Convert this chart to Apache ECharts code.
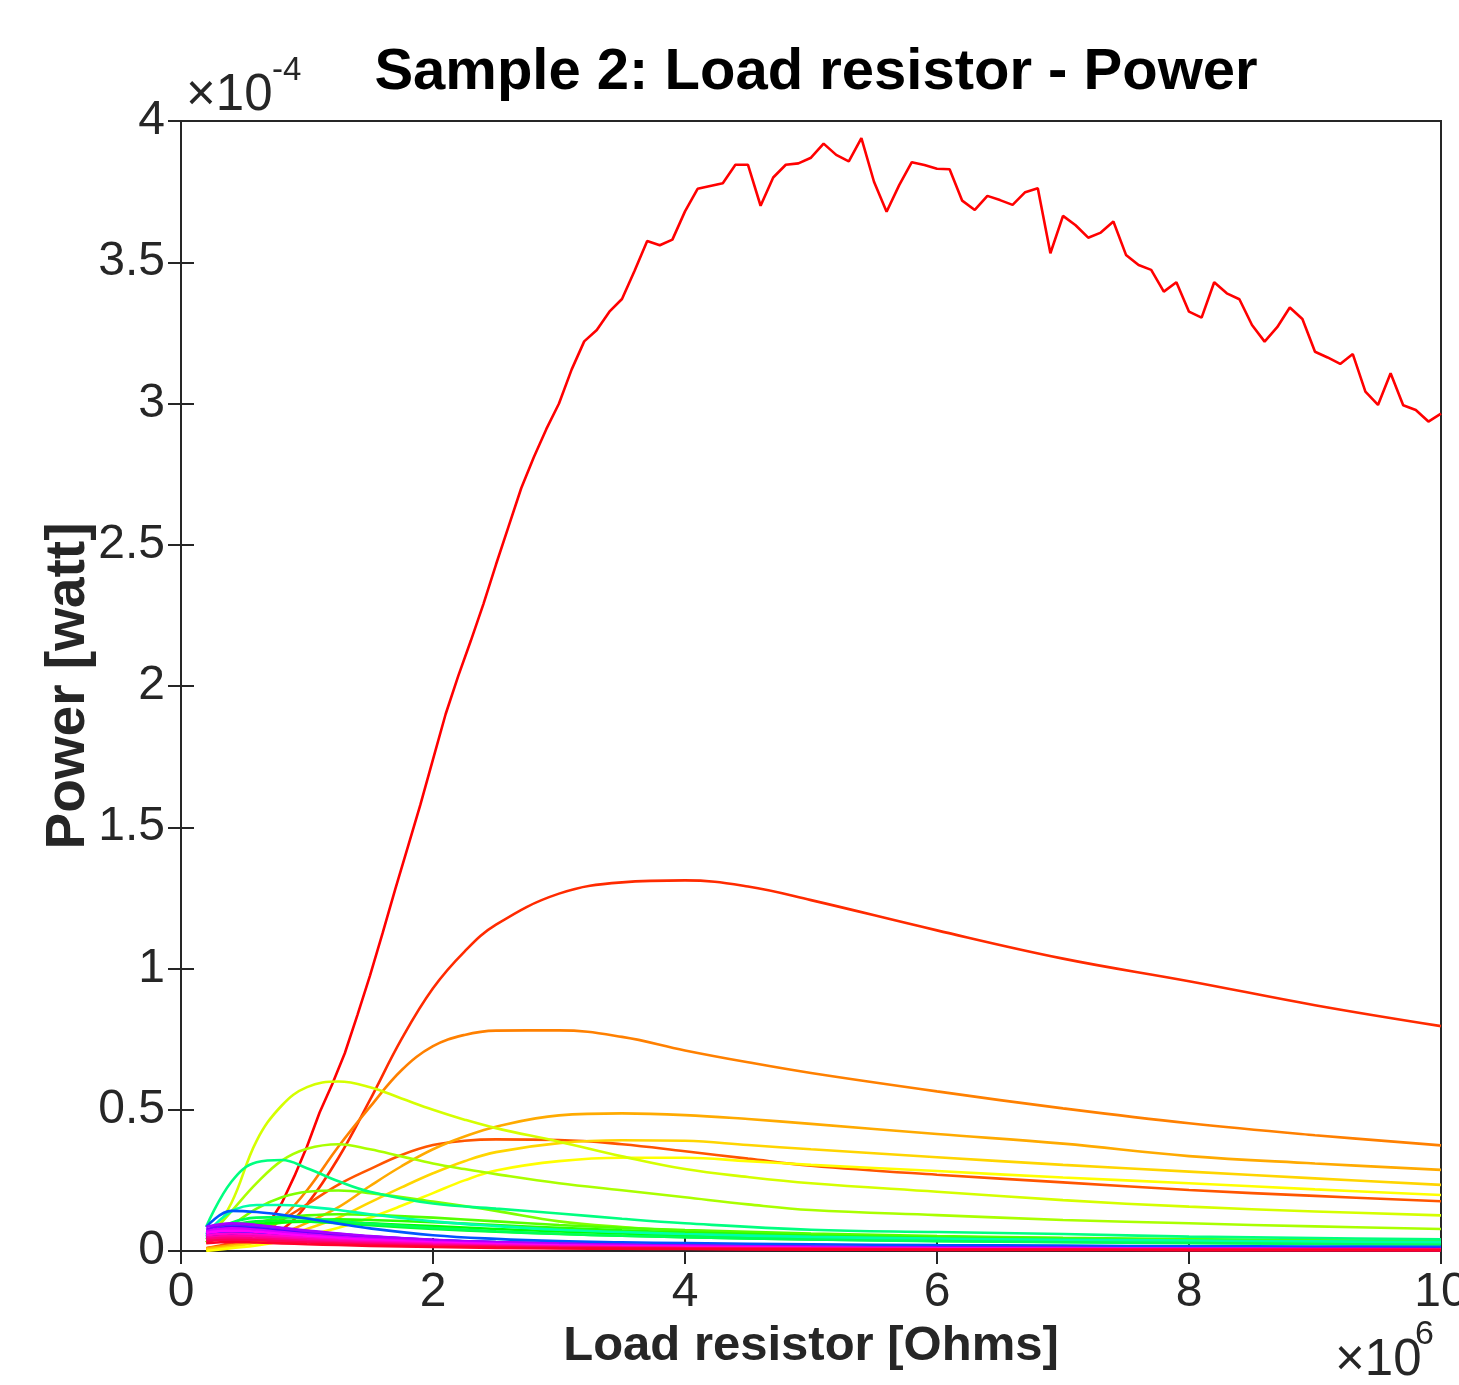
<!DOCTYPE html>
<html>
<head>
<meta charset="utf-8">
<title>Sample 2: Load resistor - Power</title>
<script src="https://cdn.jsdelivr.net/npm/echarts@6/dist/echarts.min.js"></script>
<style>
  html, body { margin: 0; padding: 0; background: #fff; }
  #chart { width: 1459px; height: 1385px; }
</style>
</head>
<body>
<div id="chart"></div>
<script>
// x in units of 1e6 Ohms, y in units of 1e-4 W (multipliers drawn as axis exponents)

// measured curve (red, jagged) - every 0.1e6 Ohm
const redR = [0.2,0.3,0.4,0.5,0.6,0.7,0.8,0.9,1.0,1.1,1.2,1.3,1.4,1.5,1.6,1.7,1.8,1.9,2.0,2.1,
  2.2,2.3,2.4,2.5,2.6,2.7,2.8,2.9,3.0,3.1,3.2,3.3,3.4,3.5,3.6,3.7,3.8,3.9,4.0,4.1,
  4.2,4.3,4.4,4.5,4.6,4.7,4.8,4.9,5.0,5.1,5.2,5.3,5.4,5.5,5.6,5.7,5.8,5.9,6.0,6.1,
  6.2,6.3,6.4,6.5,6.6,6.7,6.8,6.9,7.0,7.1,7.2,7.3,7.4,7.5,7.6,7.7,7.8,7.9,8.0,8.1,
  8.2,8.3,8.4,8.5,8.6,8.7,8.8,8.9,9.0,9.1,9.2,9.3,9.4,9.5,9.6,9.7,9.8,9.9,10.0];
const redP = [0.005,0.012,0.022,0.038,0.06,0.10,0.17,0.265,0.37,0.49,0.59,0.70,0.835,0.975,1.125,1.28,1.43,1.58,1.74,1.90,
  2.035,2.16,2.29,2.43,2.565,2.70,2.81,2.91,3.00,3.12,3.22,3.26,3.325,3.37,3.47,3.575,3.56,3.58,3.68,3.76,
  3.77,3.78,3.845,3.845,3.70,3.80,3.845,3.85,3.87,3.92,3.88,3.857,3.939,3.785,3.679,3.773,3.854,3.844,3.831,3.829,
  3.718,3.685,3.735,3.72,3.703,3.748,3.762,3.532,3.664,3.631,3.587,3.605,3.644,3.526,3.49,3.473,3.396,3.429,3.325,3.304,
  3.429,3.39,3.369,3.278,3.219,3.27,3.34,3.299,3.183,3.163,3.14,3.175,3.042,2.995,3.107,2.994,2.977,2.936,2.964];

// larger smooth curves, read at these resistances
const rsBig = [0.2, 0.4, 0.6, 0.8, 1.0, 1.25, 1.5, 1.75, 2, 2.25, 2.5, 3, 3.5, 4, 4.5, 5, 6, 7, 8, 9, 10];

const c01 = [0.01,0.02,0.035,0.075,0.165,0.33,0.535,0.75,0.93,1.06,1.155,1.265,1.305,1.312,1.29,1.242,1.135,1.035,0.955,0.87,0.796];
const c02 = [0.01,0.03,0.065,0.11,0.165,0.235,0.29,0.34,0.375,0.39,0.395,0.393,0.378,0.353,0.327,0.302,0.27,0.243,0.216,0.195,0.176];
const c03 = [0.01,0.02,0.045,0.115,0.215,0.37,0.51,0.64,0.725,0.765,0.78,0.781,0.758,0.71,0.668,0.63,0.565,0.505,0.452,0.41,0.374];
const c04 = [0.01,0.02,0.04,0.063,0.10,0.155,0.23,0.30,0.36,0.405,0.44,0.48,0.487,0.481,0.467,0.45,0.414,0.38,0.336,0.31,0.287];
const c05 = [0.005,0.015,0.03,0.05,0.078,0.118,0.172,0.225,0.275,0.318,0.35,0.382,0.392,0.39,0.375,0.36,0.332,0.305,0.281,0.257,0.234];
const c06 = [0.0,0.01,0.02,0.035,0.055,0.082,0.118,0.16,0.205,0.25,0.285,0.318,0.33,0.33,0.318,0.305,0.283,0.26,0.24,0.218,0.198];
const c07 = [0.03,0.17,0.39,0.515,0.58,0.60,0.58,0.54,0.50,0.465,0.435,0.387,0.335,0.29,0.262,0.24,0.21,0.18,0.157,0.14,0.126];
const c08 = [0.04,0.14,0.24,0.32,0.362,0.378,0.36,0.335,0.31,0.29,0.272,0.24,0.215,0.19,0.165,0.145,0.127,0.11,0.098,0.087,0.078];

// small curves near zero, read at these resistances
const rs = [0.2, 0.4, 0.6, 0.8, 1.0, 1.25, 1.5, 2, 2.5, 3, 3.5, 4, 5, 6, 7, 8, 9, 10];

const c09 = [0.03,0.09,0.15,0.19,0.21,0.214,0.205,0.175,0.142,0.105,0.085,0.072,0.058,0.05,0.045,0.04,0.036,0.033];
const c10 = [0.03,0.07,0.10,0.118,0.126,0.13,0.128,0.118,0.105,0.092,0.082,0.074,0.062,0.053,0.047,0.042,0.038,0.035];
const c11 = [0.03,0.06,0.085,0.10,0.108,0.112,0.11,0.102,0.092,0.082,0.073,0.066,0.055,0.047,0.042,0.037,0.034,0.031];
const c12 = [0.04,0.075,0.095,0.102,0.104,0.102,0.098,0.088,0.078,0.069,0.062,0.056,0.047,0.041,0.036,0.033,0.03,0.027];
const c13 = [0.05,0.09,0.105,0.108,0.105,0.098,0.091,0.078,0.068,0.06,0.054,0.049,0.041,0.036,0.032,0.029,0.026,0.024];
const c14 = [0.05,0.10,0.118,0.12,0.115,0.106,0.097,0.082,0.07,0.061,0.054,0.049,0.041,0.035,0.031,0.028,0.025,0.023];
const c15 = [0.086,0.245,0.314,0.322,0.293,0.247,0.21,0.168,0.15,0.133,0.114,0.098,0.075,0.067,0.06,0.051,0.046,0.041];
const c16 = [0.06,0.14,0.163,0.163,0.157,0.145,0.13,0.105,0.088,0.075,0.067,0.06,0.05,0.044,0.04,0.037,0.034,0.031];
const c17 = [0.04,0.07,0.072,0.068,0.062,0.055,0.048,0.038,0.032,0.028,0.025,0.022,0.018,0.016,0.014,0.013,0.012,0.011];
const c18 = [0.045,0.075,0.076,0.07,0.063,0.055,0.048,0.038,0.031,0.027,0.024,0.021,0.017,0.015,0.013,0.012,0.011,0.01];
const c19 = [0.05,0.08,0.078,0.071,0.064,0.055,0.048,0.037,0.031,0.026,0.023,0.02,0.016,0.014,0.012,0.011,0.01,0.009];
const c20 = [0.055,0.085,0.082,0.074,0.066,0.056,0.048,0.037,0.03,0.025,0.022,0.019,0.015,0.013,0.011,0.01,0.009,0.008];
const c21 = [0.06,0.09,0.088,0.08,0.07,0.06,0.051,0.039,0.031,0.026,0.022,0.019,0.015,0.013,0.011,0.01,0.009,0.008];
const c22 = [0.085,0.142,0.138,0.128,0.115,0.097,0.08,0.056,0.043,0.035,0.031,0.028,0.024,0.021,0.019,0.017,0.016,0.015];
const c23 = [0.05,0.068,0.066,0.06,0.054,0.047,0.041,0.032,0.026,0.022,0.019,0.017,0.013,0.011,0.01,0.009,0.008,0.007];
const c24 = [0.046,0.057,0.055,0.05,0.045,0.039,0.034,0.027,0.022,0.018,0.016,0.014,0.011,0.009,0.008,0.007,0.007,0.006];
const c25 = [0.06,0.075,0.07,0.063,0.056,0.048,0.042,0.033,0.027,0.022,0.019,0.017,0.013,0.011,0.01,0.009,0.008,0.007];
const c26 = [0.065,0.085,0.08,0.072,0.064,0.055,0.047,0.036,0.029,0.024,0.021,0.018,0.014,0.012,0.01,0.009,0.008,0.007];
const c27 = [0.075,0.095,0.09,0.08,0.07,0.06,0.051,0.039,0.031,0.026,0.022,0.019,0.015,0.012,0.011,0.009,0.008,0.007];
const c28 = [0.085,0.098,0.092,0.082,0.072,0.062,0.053,0.04,0.032,0.026,0.022,0.019,0.015,0.012,0.011,0.009,0.008,0.007];
const c29 = [0.07,0.08,0.075,0.067,0.059,0.05,0.043,0.033,0.026,0.021,0.018,0.016,0.012,0.01,0.009,0.008,0.007,0.006];
const c30 = [0.064,0.072,0.068,0.06,0.053,0.045,0.039,0.03,0.024,0.019,0.016,0.014,0.011,0.009,0.008,0.007,0.006,0.005];
const c31 = [0.055,0.062,0.058,0.052,0.046,0.039,0.034,0.026,0.021,0.017,0.014,0.012,0.01,0.008,0.007,0.006,0.005,0.005];
const c32 = [0.048,0.054,0.051,0.046,0.041,0.035,0.03,0.023,0.018,0.015,0.013,0.011,0.009,0.007,0.006,0.005,0.005,0.004];
const c33 = [0.042,0.047,0.044,0.04,0.035,0.03,0.026,0.02,0.016,0.013,0.011,0.01,0.008,0.006,0.005,0.005,0.004,0.004];
const c34 = [0.035,0.04,0.038,0.034,0.03,0.026,0.022,0.017,0.014,0.011,0.01,0.008,0.007,0.005,0.005,0.004,0.004,0.003];
const c35 = [0.028,0.032,0.03,0.027,0.024,0.021,0.018,0.014,0.011,0.009,0.008,0.007,0.005,0.004,0.004,0.003,0.003,0.003];

const xTicks = [0, 2, 4, 6, 8, 10];
const yTicks = [0, 0.5, 1, 1.5, 2, 2.5, 3, 3.5, 4];

// hsv(36) colormap, curve order
const colors = ['#ff0000','#ff2b00','#ff5500','#ff8000','#ffaa00','#ffd500','#ffff00','#d5ff00','#aaff00',
  '#80ff00','#55ff00','#2bff00','#00ff00','#00ff2b','#00ff55','#00ff80','#00ffaa','#00ffd5','#00ffff',
  '#00d5ff','#00aaff','#0080ff','#0055ff','#002bff','#0000ff','#2b00ff','#5500ff','#8000ff','#aa00ff',
  '#d500ff','#ff00ff','#ff00d5','#ff00aa','#ff0080','#ff0055','#ff002b'];

const bigCurves = [c01,c02,c03,c04,c05,c06,c07,c08];
const smallCurves = [c09,c10,c11,c12,c13,c14,c15,c16,c17,c18,c19,c20,c21,c22,
  c23,c24,c25,c26,c27,c28,c29,c30,c31,c32,c33,c34,c35];

const FONT = 'Liberation Sans';
const AX = '#262626';
const G = { left: 181, top: 121, width: 1260, height: 1130 };

let chart = echarts.init(document.getElementById('chart'), null, { renderer: 'canvas' });

function smoothSeries(xs, ys, color, name) {
  return {
    name: name,
    type: 'line',
    data: xs.map((r, i) => [r, ys[i]]),
    smooth: 0.4,
    showSymbol: false,
    lineStyle: { color: color, width: 2.6 },
    z: 2
  };
}

let series = [{
  name: 'c00',
  type: 'line',
  data: redR.map((r, i) => [r, redP[i]]),
  showSymbol: false,
  lineStyle: { color: colors[0], width: 2.6 },
  z: 2
}];
bigCurves.forEach((c, k) => series.push(smoothSeries(rsBig, c, colors[k + 1], 'c' + (k + 1))));
smallCurves.forEach((c, k) => series.push(smoothSeries(rs, c, colors[k + 9], 'c' + (k + 9))));

const tickStyle = { inside: true, length: 13, lineStyle: { color: AX, width: 2 } };

chart.setOption({
  animation: false,
  backgroundColor: '#fff',
  title: {
    text: 'Sample 2: Load resistor - Power',
    left: 811,
    top: 39,
    textAlign: 'center',
    textStyle: { fontFamily: FONT, fontSize: 58, fontWeight: 'bold', color: '#000' }
  },
  grid: Object.assign({
    show: true, borderColor: AX, borderWidth: 2, backgroundColor: '#fff',
    containLabel: false, outerBoundsMode: 'none'
  }, G),
  xAxis: [{
    type: 'value', min: xTicks[0], max: xTicks[xTicks.length - 1], interval: 2,
    position: 'bottom',
    axisLine: { show: false },
    axisTick: tickStyle,
    splitLine: { show: false },
    axisLabel: { fontFamily: FONT, fontSize: 48, color: AX, margin: 18 },
    name: 'Load resistor [Ohms]',
    nameLocation: 'middle',
    nameGap: 66,
    nameTextStyle: { fontFamily: FONT, fontSize: 49, fontWeight: 'bold', color: AX }
  }, {
    type: 'value', min: xTicks[0], max: xTicks[xTicks.length - 1], interval: 2,
    position: 'top',
    axisLine: { show: false },
    axisTick: tickStyle,
    splitLine: { show: false },
    axisLabel: { show: false }
  }],
  yAxis: [{
    type: 'value', min: yTicks[0], max: yTicks[yTicks.length - 1], interval: 0.5,
    position: 'left',
    axisLine: { show: false },
    axisTick: tickStyle,
    splitLine: { show: false },
    axisLabel: { fontFamily: FONT, fontSize: 48, color: AX, margin: 16 },
    name: 'Power [watt]',
    nameLocation: 'middle',
    nameGap: 85,
    nameMoveOverlap: false,
    nameTextStyle: { fontFamily: FONT, fontSize: 55, fontWeight: 'bold', color: AX }
  }, {
    type: 'value', min: yTicks[0], max: yTicks[yTicks.length - 1], interval: 0.5,
    position: 'right',
    axisLine: { show: false },
    axisTick: tickStyle,
    splitLine: { show: false },
    axisLabel: { show: false }
  }],
  graphic: [
    { type: 'text', left: 186, top: 70, style: { text: '\u00d710', font: '51px "Liberation Sans"', fill: AX } },
    { type: 'text', left: 272, top: 54, style: { text: '-4', font: '33px "Liberation Sans"', fill: AX } },
    { type: 'text', left: 1335, top: 1335, style: { text: '\u00d710', font: '51px "Liberation Sans"', fill: AX } },
    { type: 'text', left: 1415, top: 1318, style: { text: '6', font: '34px "Liberation Sans"', fill: AX } }
  ],
  series: series
});
</script>
</body>
</html>
